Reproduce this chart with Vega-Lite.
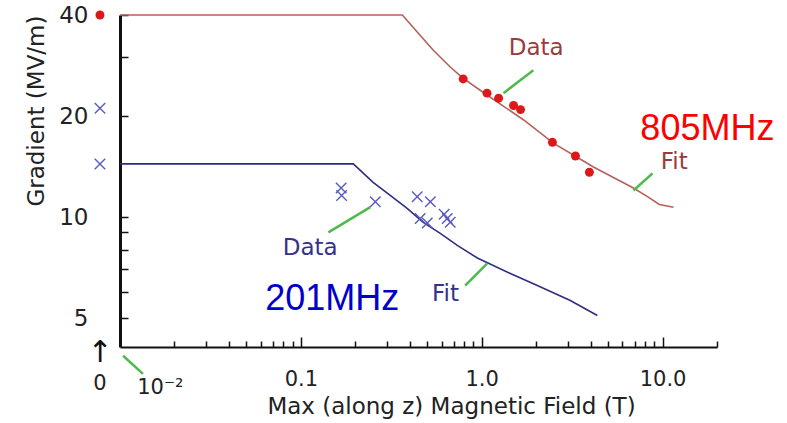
{
  "$schema": "https://vega.github.io/schema/vega-lite/v6.json",
  "width": 597,
  "height": 332,
  "autosize": "none",
  "padding": {"left": 120, "top": 15, "right": 70, "bottom": 76},
  "background": "white",
  "config": {"view": {"stroke": null}, "font": "DejaVu Sans"},
  "datasets": {
    "fit": [
      {"series": "805MHz", "B": 0.01, "G": 40},
      {"series": "805MHz", "B": 0.364, "G": 40},
      {"series": "805MHz", "B": 0.44, "G": 35.6},
      {"series": "805MHz", "B": 0.54, "G": 31.4},
      {"series": "805MHz", "B": 0.67, "G": 28.0},
      {"series": "805MHz", "B": 0.79, "G": 25.9},
      {"series": "805MHz", "B": 1.07, "G": 23.1},
      {"series": "805MHz", "B": 1.7, "G": 19.5},
      {"series": "805MHz", "B": 2.49, "G": 16.6},
      {"series": "805MHz", "B": 4.15, "G": 14.1},
      {"series": "805MHz", "B": 6.9, "G": 12.2},
      {"series": "805MHz", "B": 8.25, "G": 11.5},
      {"series": "805MHz", "B": 9.6, "G": 10.9},
      {"series": "805MHz", "B": 11.5, "G": 10.7},
      {"series": "201MHz", "B": 0.01, "G": 14.4},
      {"series": "201MHz", "B": 0.195, "G": 14.4},
      {"series": "201MHz", "B": 0.251, "G": 12.69},
      {"series": "201MHz", "B": 0.312, "G": 11.61},
      {"series": "201MHz", "B": 0.387, "G": 10.61},
      {"series": "201MHz", "B": 0.475, "G": 9.64},
      {"series": "201MHz", "B": 0.59, "G": 8.94},
      {"series": "201MHz", "B": 0.733, "G": 8.23},
      {"series": "201MHz", "B": 0.946, "G": 7.55},
      {"series": "201MHz", "B": 1.44, "G": 6.79},
      {"series": "201MHz", "B": 2.03, "G": 6.25},
      {"series": "201MHz", "B": 3.09, "G": 5.64},
      {"series": "201MHz", "B": 4.36, "G": 5.09}
    ],
    "meas": [
      {"series": "805MHz", "B": 0.00775, "G": 40},
      {"series": "805MHz", "B": 0.79, "G": 25.8},
      {"series": "805MHz", "B": 1.07, "G": 23.4},
      {"series": "805MHz", "B": 1.24, "G": 22.6},
      {"series": "805MHz", "B": 1.5, "G": 21.5},
      {"series": "805MHz", "B": 1.64, "G": 20.9},
      {"series": "805MHz", "B": 2.46, "G": 16.7},
      {"series": "805MHz", "B": 3.3, "G": 15.2},
      {"series": "805MHz", "B": 3.94, "G": 13.6},
      {"series": "201MHz", "B": 0.00775, "G": 21.1},
      {"series": "201MHz", "B": 0.00775, "G": 14.4},
      {"series": "201MHz", "B": 0.167, "G": 12.2},
      {"series": "201MHz", "B": 0.168, "G": 11.6},
      {"series": "201MHz", "B": 0.258, "G": 11.1},
      {"series": "201MHz", "B": 0.44, "G": 11.5},
      {"series": "201MHz", "B": 0.52, "G": 11.1},
      {"series": "201MHz", "B": 0.457, "G": 9.9},
      {"series": "201MHz", "B": 0.5, "G": 9.6},
      {"series": "201MHz", "B": 0.645, "G": 9.9},
      {"series": "201MHz", "B": 0.62, "G": 10.2},
      {"series": "201MHz", "B": 0.67, "G": 9.65}
    ],
    "leaders": [
      {"B": 1.93, "G": 27.4, "B2": 1.32, "G2": 23.4},
      {"B": 8.8, "G": 13.5, "B2": 6.9, "G2": 12.0},
      {"B": 0.142, "G": 9.0, "B2": 0.242, "G2": 10.7},
      {"B": 1.07, "G": 7.27, "B2": 0.81, "G2": 6.25},
      {"B": 0.0104, "G": 3.86, "B2": 0.0134, "G2": 3.41}
    ],
    "notes": [
      {"kind": "805", "text": "Data", "B": 2.0, "G": 31.9},
      {"kind": "805", "text": "Fit", "B": 11.6, "G": 14.55},
      {"kind": "201", "text": "Data", "B": 0.1126, "G": 8.06},
      {"kind": "201", "text": "Fit", "B": 0.63, "G": 5.88},
      {"kind": "big805", "text": "805MHz", "B": 17.7, "G": 18.3},
      {"kind": "big201", "text": "201MHz", "B": 0.149, "G": 5.68},
      {"kind": "axis", "text": "0", "B": 0.00775, "G": 3.17},
      {"kind": "axis", "text": "10⁻²", "B": 0.0167, "G": 3.1},
      {"kind": "arrow", "text": "↑", "B": 0.00775, "G": 3.94}
    ]
  },
  "encoding": {
    "x": {
      "field": "B",
      "type": "quantitative",
      "scale": {"type": "log", "domain": [0.01, 20], "nice": false},
      "axis": {
        "title": "Max (along z) Magnetic Field (T)",
        "values": [0.02, 0.03, 0.04, 0.05, 0.06, 0.07, 0.08, 0.09, 0.1, 0.2, 0.3, 0.4, 0.5, 0.6, 0.7, 0.8, 0.9, 1, 2, 3, 4, 5, 6, 7, 8, 9, 10, 20],
        "labelExpr": "datum.value == 0.1 ? '0.1' : datum.value == 1 ? '1.0' : datum.value == 10 ? '10.0' : ''",
        "grid": false,
        "tickSize": {"condition": {"test": "datum.value == 0.1 || datum.value == 1 || datum.value == 10", "value": -10}, "value": -6},
        "tickWidth": 1.5,
        "tickColor": "#111",
        "domainColor": "#111",
        "domainWidth": 2,
        "labelPadding": 31,
        "labelFontSize": 21,
        "labelColor": "#222",
        "labelFlush": false,
        "labelOverlap": false,
        "titleFontSize": 23,
        "titleFontWeight": "normal",
        "titleColor": "#222",
        "titlePadding": 2,
        "titleX": 331
      }
    },
    "y": {
      "field": "G",
      "type": "quantitative",
      "scale": {"type": "log", "domain": [4.1, 40], "nice": false},
      "axis": {
        "title": "Gradient (MV/m)",
        "values": [5, 6, 7, 8, 9, 10, 20, 30, 40],
        "labelExpr": "datum.value == 5 || datum.value == 10 || datum.value == 20 || datum.value == 40 ? datum.label : ''",
        "grid": false,
        "tickSize": -8,
        "tickWidth": 1.5,
        "tickColor": "#111",
        "domainColor": "#111",
        "domainWidth": 3,
        "labelPadding": 40,
        "labelFontSize": 23,
        "labelColor": "#222",
        "labelFlush": false,
        "labelOverlap": false,
        "titleFontSize": 23,
        "titleFontWeight": "normal",
        "titleColor": "#222",
        "titleAnchor": "end",
        "titlePadding": 10
      }
    }
  },
  "layer": [
    {
      "data": {"name": "fit"},
      "transform": [{"filter": "datum.series == '805MHz'"}],
      "mark": {"type": "line", "color": "#b5605a", "strokeWidth": 1.6}
    },
    {
      "data": {"name": "fit"},
      "transform": [{"filter": "datum.series == '201MHz'"}],
      "mark": {"type": "line", "color": "#2e2e80", "strokeWidth": 1.6}
    },
    {
      "data": {"name": "leaders"},
      "mark": {"type": "rule", "color": "#4cbb4c", "strokeWidth": 2.5},
      "encoding": {"x2": {"field": "B2"}, "y2": {"field": "G2"}}
    },
    {
      "data": {"name": "meas"},
      "transform": [{"filter": "datum.series == '805MHz'"}],
      "mark": {"type": "point", "filled": true, "color": "#dd1818", "size": 80, "opacity": 1}
    },
    {
      "data": {"name": "meas"},
      "transform": [{"filter": "datum.series == '201MHz'"}],
      "mark": {"type": "point", "shape": "M-1,-1L1,1M-1,1L1,-1", "filled": false, "color": "#5a5ac0", "strokeWidth": 1.4, "size": 110, "opacity": 1}
    },
    {
      "data": {"name": "notes"},
      "transform": [{"filter": "datum.kind == '805'"}],
      "mark": {"type": "text", "color": "#9b3c3c", "fontSize": 23, "font": "DejaVu Sans"},
      "encoding": {"text": {"field": "text"}}
    },
    {
      "data": {"name": "notes"},
      "transform": [{"filter": "datum.kind == '201'"}],
      "mark": {"type": "text", "color": "#33338a", "fontSize": 23, "font": "DejaVu Sans"},
      "encoding": {"text": {"field": "text"}}
    },
    {
      "data": {"name": "notes"},
      "transform": [{"filter": "datum.kind == 'big805'"}],
      "mark": {"type": "text", "color": "#ff0000", "fontSize": 36, "font": "Liberation Sans"},
      "encoding": {"text": {"field": "text"}}
    },
    {
      "data": {"name": "notes"},
      "transform": [{"filter": "datum.kind == 'big201'"}],
      "mark": {"type": "text", "color": "#0000cc", "fontSize": 36, "font": "Liberation Sans"},
      "encoding": {"text": {"field": "text"}}
    },
    {
      "data": {"name": "notes"},
      "transform": [{"filter": "datum.kind == 'axis'"}],
      "mark": {"type": "text", "color": "#222", "fontSize": 21, "font": "DejaVu Sans"},
      "encoding": {"text": {"field": "text"}}
    },
    {
      "data": {"name": "notes"},
      "transform": [{"filter": "datum.kind == 'arrow'"}],
      "mark": {"type": "text", "color": "#111", "fontSize": 30, "font": "DejaVu Sans"},
      "encoding": {"text": {"field": "text"}}
    }
  ]
}
